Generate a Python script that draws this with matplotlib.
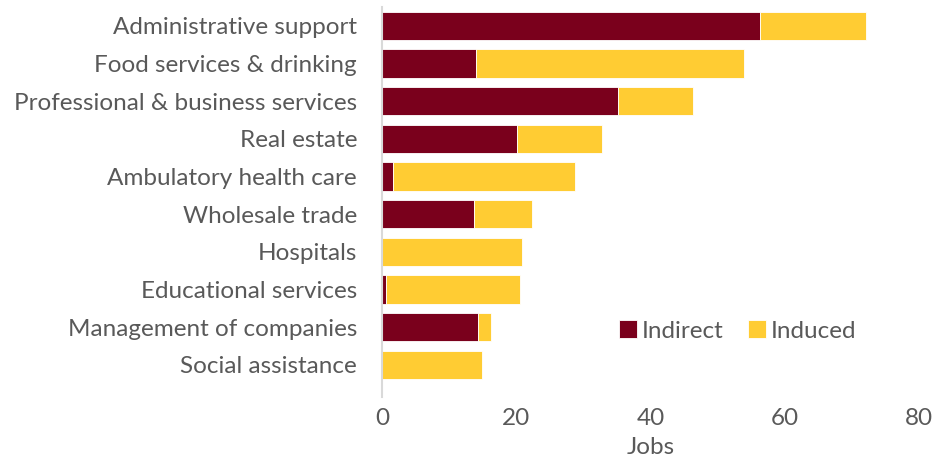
import matplotlib.pyplot as plt
import numpy as np

plt.rcParams['font.family'] = ['Lato', 'DejaVu Sans']

# Jobs by industry, split into indirect and induced effects
industries = [
    "Administrative support",
    "Food services & drinking",
    "Professional & business services",
    "Real estate",
    "Ambulatory health care",
    "Wholesale trade",
    "Hospitals",
    "Educational services",
    "Management of companies",
    "Social assistance",
]
indirect = [56.3, 14.0, 35.1, 20.1, 1.6, 13.7, 0.0, 0.6, 14.3, 0.0]
induced = [15.8, 40.0, 11.2, 12.7, 27.2, 8.7, 20.9, 19.9, 2.0, 14.9]
xticks = [0, 20, 40, 60, 80]

RED = "#7A001C"
GOLD = "#FFCC33"
GREY = "#595959"
FS = 17.5

fig = plt.figure(figsize=(9.34, 4.57), dpi=100)
ax = fig.add_axes([382 / 934, 1 - 397 / 457, 537 / 934, 390 / 457])

y = np.arange(len(industries))
ax.barh(y, indirect, height=0.75, color=RED, edgecolor="white",
        linewidth=0.6, label="Indirect")
ax.barh(y, induced, left=indirect, height=0.75, color=GOLD,
        edgecolor="white", linewidth=0.6, label="Induced")

ax.set_ylim(9.85, -0.5)
ax.set_xlim(0, 80)
ax.set_yticks(y)
ax.set_yticklabels(industries, fontsize=FS, color=GREY)
ax.set_xticks(xticks)
ax.set_xticklabels([str(t) for t in xticks], fontsize=FS, color=GREY)
ax.tick_params(axis="both", length=0)
ax.tick_params(axis="y", pad=18)
ax.tick_params(axis="x", pad=8)
ax.set_xlabel("Jobs", fontsize=FS, color=GREY, labelpad=6)

for s in ("top", "right", "bottom"):
    ax.spines[s].set_visible(False)
ax.spines["left"].set_color("#D9D9D9")
ax.spines["left"].set_linewidth(1.5)

leg = ax.legend(loc="center left", bbox_to_anchor=(619 / 934, 1 - 331 / 457),
                bbox_transform=fig.transFigure, ncol=2, frameon=False,
                borderpad=0, borderaxespad=0, handlelength=0.75,
                handleheight=0.75, handletextpad=0.2, columnspacing=1.0,
                fontsize=FS)
for t in leg.get_texts():
    t.set_color(GREY)

fig.savefig("out.png", dpi=100)
